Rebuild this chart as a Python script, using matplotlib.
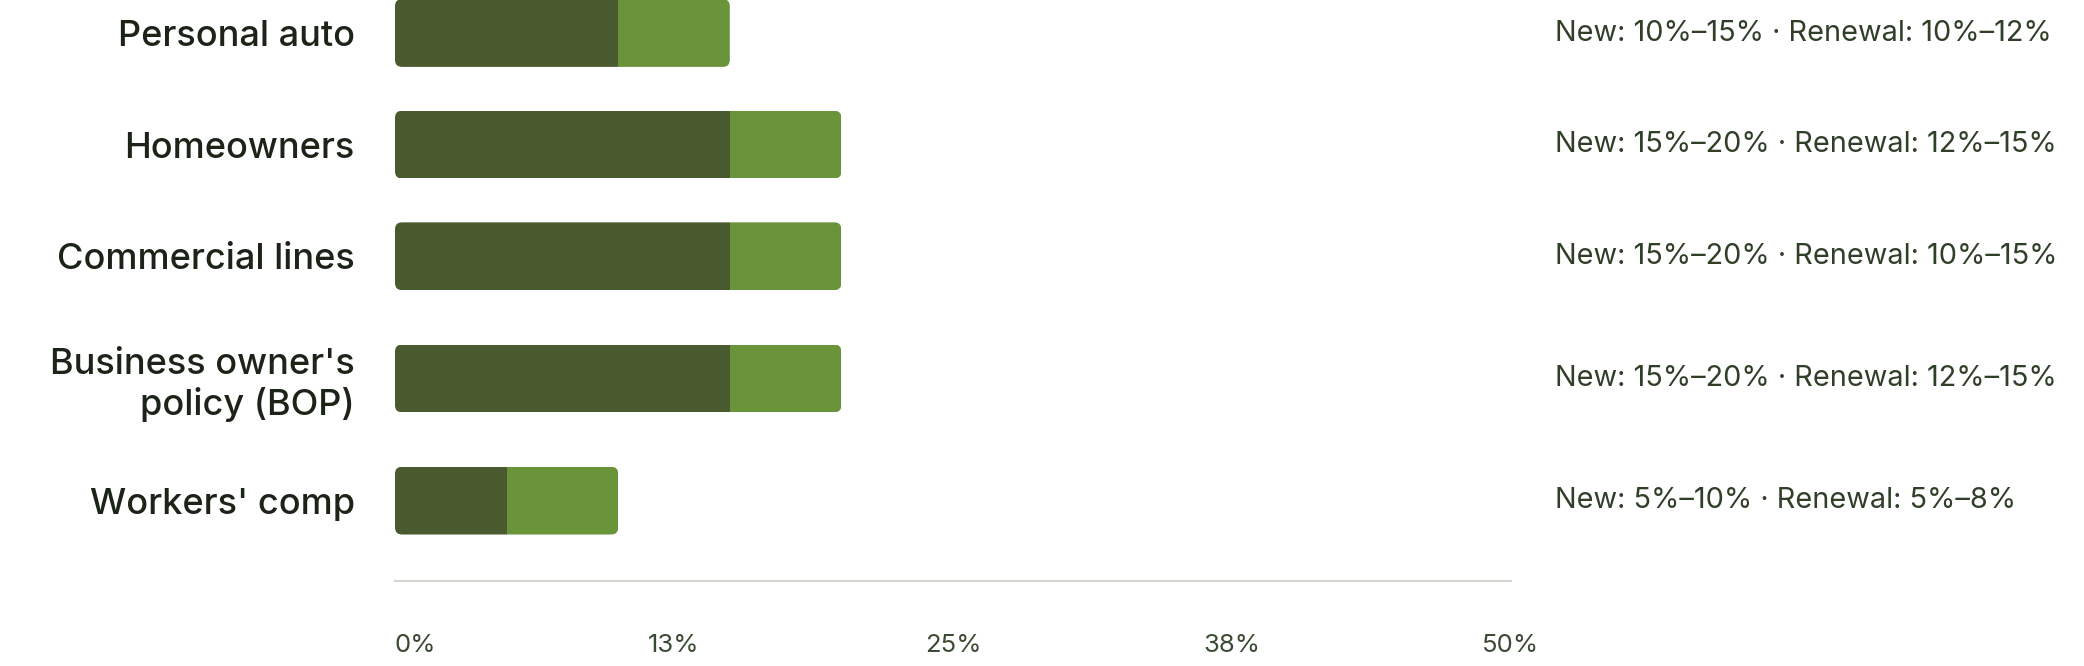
import math
import numpy as np
import matplotlib
matplotlib.use('Agg')
import matplotlib.pyplot as plt
from matplotlib.patches import FancyBboxPatch

# Data
categories = ["Personal auto", "Homeowners", "Commercial lines",
              "Business owner's\npolicy (BOP)", "Workers' comp"]
new_low = [10, 15, 15, 15, 5]
new_high = [15, 20, 20, 20, 10]
renewal_low = [10, 12, 10, 12, 5]
renewal_high = [12, 15, 15, 15, 8]
x_max = 50

plt.rcParams['font.family'] = ['Inter', 'DejaVu Sans']

DARK = '#4a5a2f'
LIGHT = '#6a943a'
LABEL_COLOR = '#1c2418'
NOTE_COLOR = '#2f3f28'
TICK_COLOR = '#3a4a33'

# row heights grow with the number of label lines
n_lines = np.array([c.count('\n') + 1 for c in categories])
heights = 1 + 0.19 * (n_lines - 1)
centers = np.cumsum(heights) - heights / 2
bar_h = 0.607

fig = plt.figure(figsize=(20.84, 6.66), dpi=100)
ax = fig.add_axes([395 / 2084, 1 - 581 / 666, 1116 / 2084, 603.8 / 666])
ax.set_xlim(0, x_max)
ax.set_ylim(5.41, 0)

low = np.array(new_low)
spread = np.array(new_high) - low

dark_bars = ax.barh(centers, low, height=bar_h, color=DARK, linewidth=0)
light_bars = ax.barh(centers, spread, left=low, height=bar_h, color=LIGHT, linewidth=0)

# rounded outer corners: clip both segments to a rounded box
x_per_px = x_max / 1116
y_per_px = 5.41 / 603.8
aspect = y_per_px / x_per_px
radius = 7 * x_per_px
for i, c in enumerate(centers):
    clip = FancyBboxPatch((0, c - bar_h / 2), new_high[i], bar_h,
                          boxstyle=f"round,pad=0,rounding_size={radius}",
                          mutation_aspect=aspect, transform=ax.transData,
                          facecolor='none', edgecolor='none')
    ax.add_patch(clip)
    dark_bars[i].set_clip_path(clip)
    light_bars[i].set_clip_path(clip)

    note = (f"New: {new_low[i]}%\u2013{new_high[i]}% \u00b7 "
            f"Renewal: {renewal_low[i]}%\u2013{renewal_high[i]}%")
    ax.annotate(note, xy=(1, c), xycoords=ax.get_yaxis_transform(),
                xytext=(44, 0), textcoords='offset pixels',
                ha='left', va='center', fontsize=20.8, color=NOTE_COLOR,
                annotation_clip=False)

# axes styling
for side in ['top', 'right', 'left']:
    ax.spines[side].set_visible(False)
ax.spines['bottom'].set_color('#d6d6d0')
ax.spines['bottom'].set_linewidth(1.5)

ax.set_yticks(centers)
ax.set_yticklabels(categories, fontsize=26, color=LABEL_COLOR,
                   fontweight='medium', linespacing=1.2, ha='right')
ax.tick_params(axis='y', length=0, pad=29)

xticks = np.linspace(0, x_max, 5)
ax.set_xticks(xticks)
xlabels = ax.set_xticklabels([f"{math.floor(v + 0.5)}%" for v in xticks],
                             fontsize=18.5, color=TICK_COLOR)
xlabels[0].set_ha('left')
ax.tick_params(axis='x', length=0, pad=38)

fig.savefig('out.png', dpi=100)
